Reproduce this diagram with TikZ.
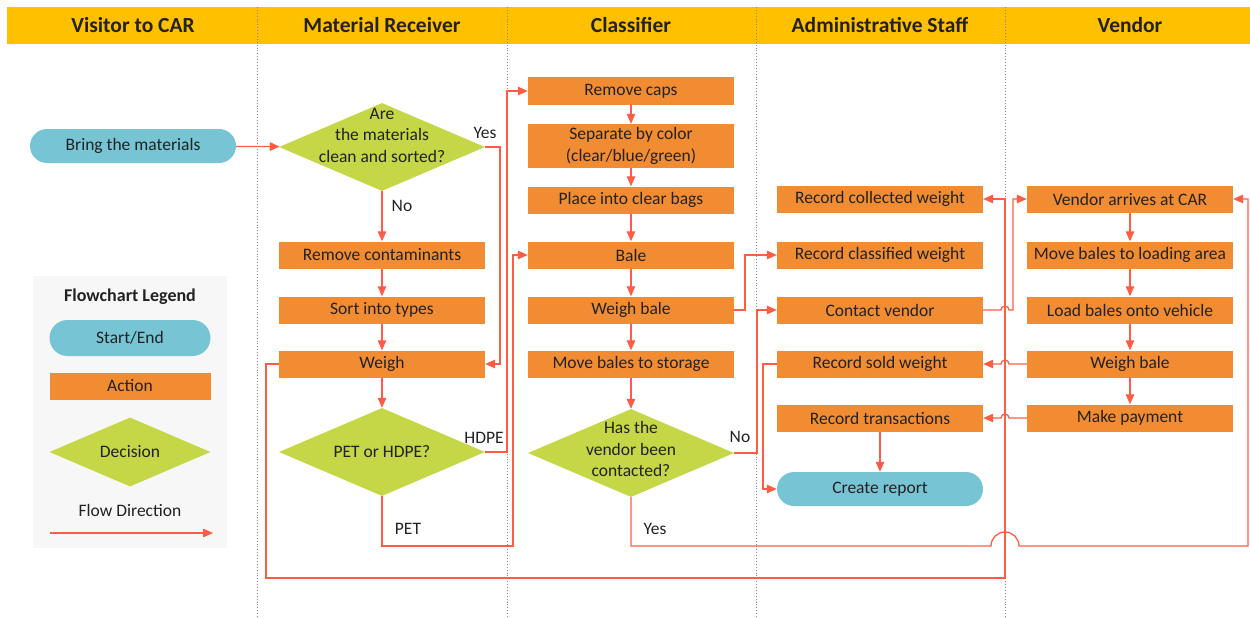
\documentclass[tikz,border=0pt]{standalone}
\usepackage{fontspec}
\setmainfont{Carlito}
\usetikzlibrary{shapes.geometric,arrows.meta}
\definecolor{hdr}{HTML}{FFC000}
\definecolor{act}{HTML}{F28C33}
\definecolor{term}{HTML}{77C4D5}
\definecolor{dec}{HTML}{C5D646}
\definecolor{flow}{HTML}{FF5C45}
\definecolor{leg}{HTML}{F7F7F7}
\definecolor{txt}{HTML}{222222}
\definecolor{lane}{HTML}{888888}
\begin{document}
\begin{tikzpicture}[x=1pt,y=-1pt,
  every node/.style={text=txt},
  bodyfont/.style={font=\fontsize{17.5}{21.5}\selectfont},
  action/.style={rectangle, fill=act, minimum width=206pt, minimum height=27pt, inner sep=0pt, bodyfont},
  terminal/.style={rectangle, rounded corners=17pt, fill=term, minimum width=206pt, minimum height=34pt, inner sep=0pt, bodyfont},
  decision/.style n args={2}{diamond, fill=dec, minimum width=206pt, minimum height=88pt, inner sep=0pt, aspect=2.3,
     label={[bodyfont, align=center, inner sep=0pt, text=txt, yshift=#2]center:#1}},
  title/.style={font=\fontsize{21.5}{24}\selectfont\bfseries},
  lbl/.style={bodyfont, inner sep=1pt},
  flowline/.style={draw=flow, line width=1.3pt},
  flowarrow/.style={flowline, -{Triangle[length=10pt,width=8.5pt]}},
  lanediv/.style={draw=lane, dotted, line width=0.9pt}
]
\useasboundingbox (0,0) rectangle (1250,618);
% header
\fill[hdr] (7,7) rectangle (1250,44);
\node[title] (h1) at (133,25) {Visitor to CAR};
\node[title] (h2) at (382,25) {Material Receiver};
\node[title] (h3) at (631,25) {Classifier};
\node[title] (h4) at (880,25) {Administrative Staff};
\node[title] (h5) at (1130,25) {Vendor};
% lane dividers
\foreach \xx in {257,507,756,1005} \draw[lanediv] (\xx,7) -- (\xx,618);
% legend
\fill[leg] (33,276) rectangle (227,548);
\node[font=\fontsize{18}{20}\selectfont\bfseries] (lt) at (130,297) {Flowchart Legend};
\node[terminal, minimum width=161pt, minimum height=36pt, rounded corners=18pt] (ls) at (130,338) {Start/End};
\node[action, minimum width=161pt] (la) at (130,386) {Action};
\node[decision={Decision}{0pt}, minimum width=161pt, minimum height=69pt] (ld) at (130,452) {};
\node[lbl] (lf) at (130,510) {Flow Direction};
\coordinate (lfa) at (50,533);
\coordinate (lfb) at (213,533);
\draw[flowarrow] (lfa) -- (lfb);
% visitor
\node[terminal] (bring) at (133,146) {Bring the materials};
% material receiver
\node[decision={Are\\the materials\\clean and sorted?}{12pt}] (d1) at (382,147) {};
\node[action] (rc) at (382,255) {Remove contaminants};
\node[action] (sort) at (382,310) {Sort into types};
\node[action] (weigh) at (382,364) {Weigh};
\node[decision={PET or HDPE?}{0pt}] (d3) at (382,452) {};
% classifier
\node[action] (caps) at (631,91) {Remove caps};
\node[action, minimum height=44pt, align=center] (sep) at (631,146) {Separate by color\\(clear/blue/green)};
\node[action] (place) at (631,200) {Place into clear bags};
\node[action] (bale) at (631,255) {Bale};
\node[action] (wb) at (631,310) {Weigh bale};
\node[action] (mbs) at (631,364) {Move bales to storage};
\node[decision={Has the\\vendor been\\contacted?}{4pt}] (d2) at (631,453) {};
% admin
\node[action] (rcw) at (880,199) {Record collected weight};
\node[action] (rclw) at (880,255) {Record classified weight};
\node[action] (cv) at (880,310) {Contact vendor};
\node[action] (rsw) at (880,364) {Record sold weight};
\node[action] (rt) at (880,418) {Record transactions};
\node[terminal] (cr) at (880,489) {Create report};
% vendor
\node[action] (va) at (1130,199) {Vendor arrives at CAR};
\node[action] (mbl) at (1130,255) {Move bales to loading area};
\node[action] (lbv) at (1130,310) {Load bales onto vehicle};
\node[action] (wb2) at (1130,364) {Weigh bale};
\node[action] (mp) at (1130,418) {Make payment};
% labels
\node[lbl] (lyes1) at (485,133) {Yes};
\node[lbl] (lno1) at (402,206) {No};
\node[lbl] (lhdpe) at (484,438) {HDPE};
\node[lbl] (lpet) at (408,529) {PET};
\node[lbl] (lno2) at (740,437) {No};
\node[lbl] (lyes2) at (655,529) {Yes};
% connectors
\draw[flowarrow] (bring) -- (d1);
\draw[flowarrow] (d1.east) -- (500,147) |- (weigh.east);
\draw[flowarrow] (d1) -- (rc);
\draw[flowarrow] (rc) -- (sort);
\draw[flowarrow] (sort) -- (weigh);
\draw[flowarrow] (weigh) -- (d3);
\draw[flowarrow] (d3.east) -- (507,452) |- (caps.west);
\draw[flowarrow] (d3.south) -- (382,546) -- (513,546) |- (bale.west);
\draw[flowarrow] (weigh.west) -- (266,364) -- (266,578) -- (1005,578) |- (rcw.east);
\draw[flowarrow] (caps) -- (sep);
\draw[flowarrow] (sep) -- (place);
\draw[flowarrow] (place) -- (bale);
\draw[flowarrow] (bale) -- (wb);
\draw[flowarrow] (wb) -- (mbs);
\draw[flowarrow] (mbs) -- (d2);
\draw[flowarrow] (wb.east) -- (745,310) |- (rclw.west);
\draw[flowarrow] (d2.east) -- (757,453) |- (cv.west);
\draw[flowarrow] (cv.east) -- (1001,310) arc[start angle=180, end angle=0, radius=4pt] -- (1013,310) |- (va.west);
\draw[flowarrow] (va) -- (mbl);
\draw[flowarrow] (mbl) -- (lbv);
\draw[flowarrow] (lbv) -- (wb2);
\draw[flowarrow] (wb2) -- (mp);
\draw[flowarrow] (wb2.west) -- (1009,364) arc[start angle=0, end angle=180, radius=4pt] -- (rsw.east);
\draw[flowarrow] (mp.west) -- (1009,418) arc[start angle=0, end angle=180, radius=4pt] -- (rt.east);
\draw[flowarrow] (rsw.west) -- (763,364) |- (cr.west);
\draw[flowarrow] (rt) -- (cr);
\draw[flowarrow] (d2.south) -- (631,546) -- (991,546) arc[start angle=180, end angle=0, radius=14pt] -- (1248,546) -- (1248,199) -- (va.east);
\end{tikzpicture}
\end{document}
